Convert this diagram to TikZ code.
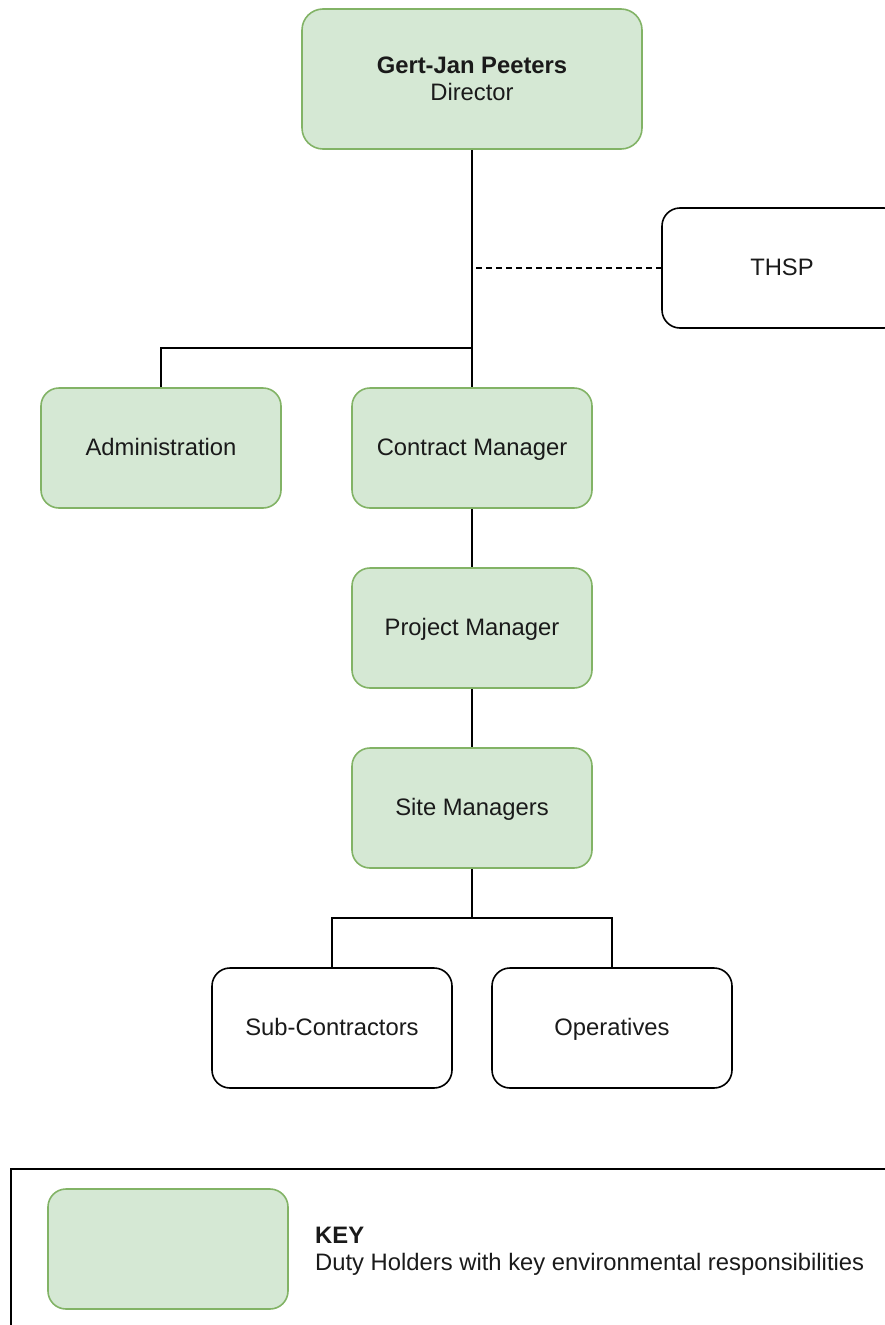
\documentclass[tikz,border=0pt]{standalone}
\usepackage{fontspec}
\setmainfont{Liberation Sans}
\definecolor{gfill}{HTML}{D5E8D4}
\definecolor{gline}{HTML}{82B366}
\definecolor{txt}{HTML}{1A1A1A}
\begin{document}
\begin{tikzpicture}[x=1pt,y=-1pt,
  every node/.style={font=\fontsize{23.8}{27}\selectfont, text=txt},
  greenbox/.style={draw=gline, fill=gfill, line width=1.6pt, rounded corners=18pt,
    minimum width=240pt, minimum height=120pt, inner sep=0pt, align=center},
  whitebox/.style={draw=black, fill=white, line width=1.6pt, rounded corners=18pt,
    minimum width=240pt, minimum height=120pt, inner sep=0pt, align=center},
  oneline/.style={text height=17pt, text depth=3pt},
  conn/.style={draw=black, line width=1.6pt}]
\useasboundingbox (0,0) rectangle (885,1325);
\clip (0,0) rectangle (885,1325);
% nodes
\node[greenbox, minimum width=340pt, minimum height=140pt, rounded corners=21pt] (dir) at (472,79) {\textbf{Gert-Jan Peeters}\\Director};
\node[whitebox, oneline] (thsp) at (782,268) {THSP};
\node[greenbox, oneline] (admin) at (161,448) {Administration};
\node[greenbox, oneline] (cm) at (472,448) {Contract Manager};
\node[greenbox, oneline] (pm) at (472,628) {Project Manager};
\node[greenbox, oneline] (sm) at (472,808) {Site Managers};
\node[whitebox, oneline] (sub) at (332,1028) {Sub-Contractors};
\node[whitebox, oneline] (ops) at (612,1028) {Operatives};
% junctions
\coordinate (j1) at (472,348);
\coordinate (jd) at (476,268);
\coordinate (j2) at (472,918);
% connectors
\draw[conn] (dir.south) -- (cm.north);
\draw[conn] (admin.north) |- (j1);
\draw[conn, dashed, dash pattern=on 6pt off 4pt] (jd) -- (thsp.west);
\draw[conn] (cm.south) -- (pm.north);
\draw[conn] (pm.south) -- (sm.north);
\draw[conn] (sm.south) -- (j2);
\draw[conn] (sub.north) |- (j2) -| (ops.north);
% key
\node[draw=black, line width=1.6pt, minimum width=900pt, minimum height=200pt, anchor=north west, inner sep=0pt] (keyframe) at (10,1168) {};
\node[greenbox] (keybox) at (168,1249) {};
\node[anchor=west, align=left, inner sep=0pt] (keytxt) at (315,1251) {\textbf{KEY}\\Duty Holders with key environmental responsibilities};
\end{tikzpicture}
\end{document}
